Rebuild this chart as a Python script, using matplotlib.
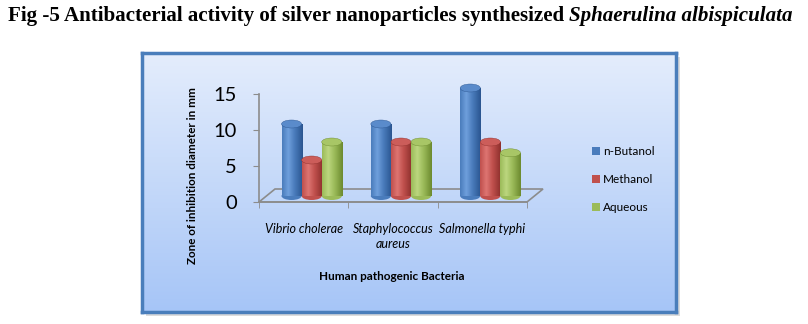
import numpy as np
import matplotlib
matplotlib.use("Agg")
import matplotlib.pyplot as plt
import matplotlib.transforms as mtransforms
from matplotlib.patches import Ellipse, Patch, Polygon, Rectangle
from matplotlib.colors import LinearSegmentedColormap

# data
bacteria = ["Vibrio cholerae", "Staphylococcus\naureus", "Salmonella typhi"]
solvents = ["n-Butanol", "Methanol", "Aqueous"]
butanol = [10, 10, 15]
methanol = [5, 7.5, 7.5]
aqueous = [7.5, 7.5, 6]
yticks = [0, 5, 10, 15]

# base, dark edge, highlight, top cap
palette = {
    "n-Butanol": ("#4a7cbc", "#2a5590", "#6f9fdc", "#5a8bcb"),
    "Methanol": ("#c0504d", "#8e2f2c", "#de7572", "#cc5d5a"),
    "Aqueous": ("#9bbb59", "#6c8a2f", "#bcd67f", "#a8c666"),
}

W, H, DPI = 808, 324, 100
fig = plt.figure(figsize=(W / DPI, H / DPI), dpi=DPI)
fig.patch.set_facecolor("white")


def fx(px):
    return px / W


def fy(py):
    return 1 - py / H


# chart area box with gradient and shadow
bx0, by0, bx1, by1 = 142, 53, 676, 312
shadow = Rectangle((fx(bx0 + 4), fy(by1 + 4)), fx(bx1 - bx0), (by1 - by0) / H,
                   transform=fig.transFigure, facecolor="#dcdcdc", edgecolor="none", zorder=-5)
fig.patches.append(shadow)
bg = fig.add_axes([fx(bx0), fy(by1), fx(bx1 - bx0), (by1 - by0) / H], zorder=0)
grad = np.linspace(0, 1, 256).reshape(-1, 1)
bg_cmap = LinearSegmentedColormap.from_list("bg", ["#e4edfc", "#a6c5f7"])
bg.imshow(grad, aspect="auto", cmap=bg_cmap, extent=[0, 1, 0, 1], origin="upper")
bg.set_xticks([])
bg.set_yticks([])
for s in bg.spines.values():
    s.set_color("#4a7ebb")
    s.set_linewidth(2.5)

# main axes: front y axis at x=259, y=0 at 202, y=15 at 94
ax = fig.add_axes([fx(259), fy(202), fx(527 - 259), (202 - 94) / H], zorder=2)
ax.patch.set_alpha(0)
ax.set_xlim(-0.5, 2.5)
ax.set_ylim(0, 15)

depth = mtransforms.ScaledTranslation(8 / DPI, 6 / DPI, fig.dpi_scale_trans)
bar_trans = ax.transData + depth

x = np.arange(len(bacteria))
bw = 0.225
px_per_y = (202 - 94) / 15.0
cap_h = 8 / px_per_y

series = [butanol, methanol, aqueous]
for i, (name, vals) in enumerate(zip(solvents, series)):
    base, dark, light, top = palette[name]
    cmap = LinearSegmentedColormap.from_list(
        name, [(0, base), (0.3, light), (0.6, base), (1, dark)])
    xs = x + (i - 1) * bw
    bars = ax.bar(xs, vals, bw, color=base, transform=bar_trans, zorder=3, clip_on=False)
    for b, v in zip(bars, vals):
        x0 = b.get_x()
        # bottom cap
        ax.add_patch(Ellipse((x0 + bw / 2, 0), bw, cap_h, transform=bar_trans,
                             facecolor=base, edgecolor="none", zorder=2.5, clip_on=False))
        hgrad = np.linspace(0, 1, 64).reshape(1, -1)
        im = ax.imshow(hgrad, cmap=cmap, aspect="auto", extent=[x0, x0 + bw, 0, v],
                       transform=bar_trans, zorder=3.5, interpolation="bilinear")
        im.set_clip_path(b)
        # top cap
        ax.add_patch(Ellipse((x0 + bw / 2, v), bw, cap_h, transform=bar_trans,
                             facecolor=top, edgecolor=dark, linewidth=0.3, zorder=4,
                             clip_on=False))

ax.set_xlim(-0.5, 2.5)
ax.set_ylim(0, 15)

# floor outline
fig.canvas.draw()
front = ax.transData.transform([(-0.5, 0), (2.5, 0)])
back = front + np.array([16, 13])
floor = Polygon(np.vstack([front, back[::-1]]), closed=True, transform=mtransforms.IdentityTransform(),
                facecolor="none", edgecolor="#8c8c8c", linewidth=1.2, zorder=2, clip_on=False)
ax.add_artist(floor)

for side in ["top", "right"]:
    ax.spines[side].set_visible(False)
ax.spines["left"].set_color("#8c8c8c")
ax.spines["bottom"].set_color("#8c8c8c")
ax.spines["left"].set_linewidth(1.2)
ax.spines["bottom"].set_linewidth(1.2)

ax.set_yticks(yticks)
ax.set_yticklabels([str(t) for t in yticks], fontsize=14.5, family="Lato")
ax.tick_params(axis="y", length=4, color="#8c8c8c", pad=12)
ax.set_xticks(x)
ax.set_xticklabels(bacteria, fontsize=9, family="Lato", style="italic", linespacing=1.3)
ax.set_xticks([-0.5, 0.5, 1.5, 2.5], minor=True)
ax.tick_params(axis="x", which="major", length=0, pad=15)
ax.tick_params(axis="x", which="minor", length=4, color="#8c8c8c")

fig.text(fx(392), fy(276), "Human pathogenic Bacteria", ha="center", va="center",
         fontsize=8.5, fontweight="bold", family="Lato")
fig.text(fx(193), fy(176), "Zone of inhibition diameter in mm", ha="center", va="center",
         rotation=90, fontsize=8.4, fontweight="bold", family="Lato")

handles = [Patch(facecolor=palette[s][0], edgecolor="none") for s in solvents]
fig.legend(handles, solvents, loc="upper left", bbox_to_anchor=(fx(592), fy(146)),
           frameon=False, prop={"family": "Lato", "size": 8.5}, handlelength=0.7,
           handleheight=0.7, handletextpad=0.25, labelspacing=1.45,
           borderpad=0, borderaxespad=0)

# title: bold serif with italic species name
t1 = fig.text(fx(8), fy(16), "Fig -5 Antibacterial activity of silver nanoparticles synthesized ",
              ha="left", va="center", fontsize=15.1, fontweight="bold", family="Liberation Serif")
fig.canvas.draw()
ext = t1.get_window_extent()
fig.text(ext.x1 / W, fy(16), "Sphaerulina albispiculata", ha="left", va="center",
         fontsize=15.1, fontweight="bold", style="italic", family="Liberation Serif")

fig.savefig("out.png", dpi=DPI)
